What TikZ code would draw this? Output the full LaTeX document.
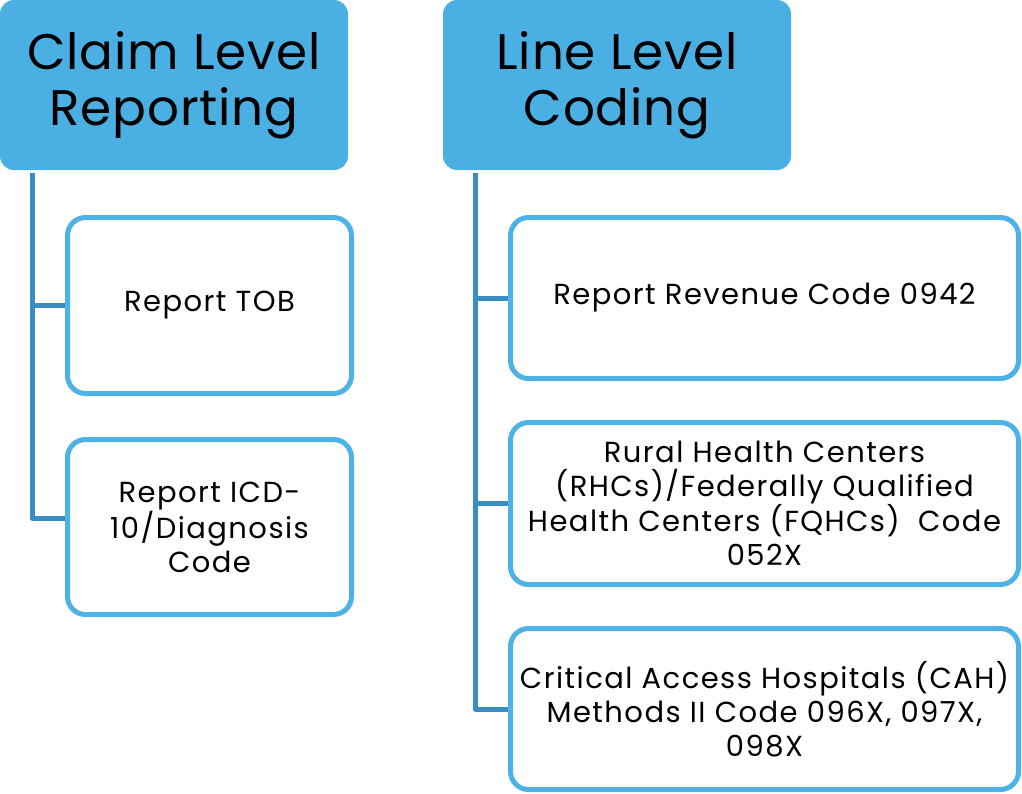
\documentclass[tikz,border=0pt]{standalone}
\usepackage{fontspec}
\setmainfont{Poppins}
\newfontfamily\bodyfont[LetterSpace=5]{Poppins}
\newfontfamily\headfont[LetterSpace=1.8]{Poppins}
\definecolor{headfill}{HTML}{4AAFE2}
\definecolor{boxline}{HTML}{4DB3E6}
\definecolor{trunk}{HTML}{3A8EBF}
\tikzset{
  head/.style={fill=headfill, rounded corners=14pt, minimum width=348pt, minimum height=170pt,
    inner sep=0pt, align=center, font=\headfont\fontsize{50}{56}\selectfont},
  item/.style={draw=boxline, line width=5pt, rounded corners=18pt, fill=white,
    inner sep=0pt, align=center, font=\bodyfont\fontsize{29}{34}\selectfont},
  link/.style={draw=trunk, line width=5pt, line join=round}
}
\begin{document}
\begin{tikzpicture}[x=1pt,y=-1pt]
\useasboundingbox (0,0) rectangle (1022,793);

% column headings
\node[head] (h1) at (174,85) {Claim Level\\Reporting};
\node[head] (h2) at (617,85) {Line Level\\Coding};

% claim level items
\node[item, minimum width=284pt, minimum height=176pt] (a1) at (209.5,305.5) {Report TOB};
\node[item, minimum width=284pt, minimum height=175pt] (a2) at (209.5,527) {Report ICD-\\10/Diagnosis\\Code};

% line level items
\node[item, minimum width=508pt, minimum height=161pt] (b1) at (764.5,298) {Report Revenue Code 0942};
\node[item, minimum width=508pt, minimum height=162pt] (b2) at (764.5,503.5) {Rural Health Centers\\(RHCs)/Federally Qualified\\Health Centers (FQHCs)\ \ Code\\052X};
\node[item, minimum width=508pt, minimum height=161pt] (b3) at (764.5,709) {Critical Access Hospitals (CAH)\\Methods II Code 096X, 097X,\\098X};

% connectors
\coordinate (ta) at (32,173);
\coordinate (tb) at (475,173);
\path[link] (ta) |- ([yshift=9pt]a2.west);
\path[link] (ta |- a1.west) -- (a1.west);
\path[link] (tb) |- (b3.west);
\path[link] (tb |- b1.west) -- (b1.west);
\path[link] (tb |- b2.west) -- (b2.west);
\end{tikzpicture}
\end{document}
